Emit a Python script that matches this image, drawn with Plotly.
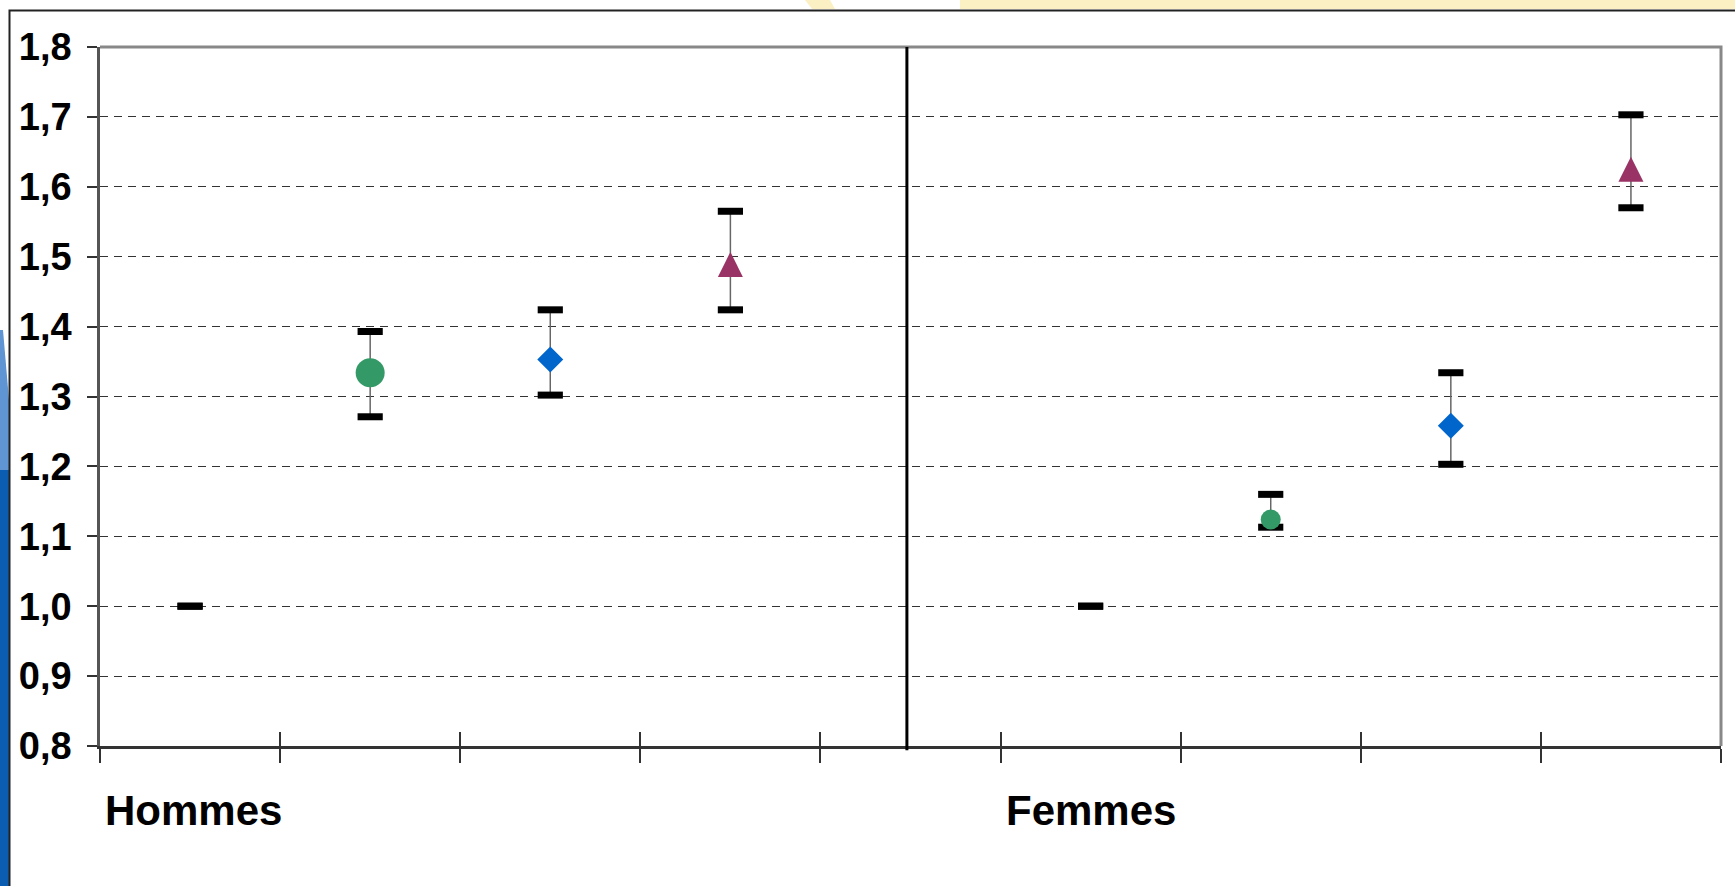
import plotly.graph_objects as go

# ---------------- data ----------------
groups = ["Hommes", "Femmes"]
y_ticks = [0.8, 0.9, 1.0, 1.1, 1.2, 1.3, 1.4, 1.5, 1.6, 1.7, 1.8]
y_tick_text = ["0,8", "0,9", "1,0", "1,1", "1,2", "1,3", "1,4", "1,5", "1,6", "1,7", "1,8"]

# order inside each group: reference, circle, diamond, triangle
hommes_est = [1.000, 1.334, 1.353, 1.489]
hommes_lo = [1.000, 1.271, 1.302, 1.424]
hommes_hi = [1.000, 1.393, 1.424, 1.565]

femmes_est = [1.000, 1.124, 1.258, 1.625]
femmes_lo = [1.000, 1.113, 1.203, 1.570]
femmes_hi = [1.000, 1.160, 1.334, 1.703]

# ---------------- layout constants ----------------
W, H = 1735, 886
ML, MR, MT, MB = 100, 14, 47, 140
PW, PH = W - ML - MR, H - MT - MB

n_per_group = len(hommes_est)
gap = 1
h_x = list(range(n_per_group))
f_x = [i + n_per_group + gap for i in range(n_per_group)]
n_slots = n_per_group * 2 + gap
boundaries = [i - 0.5 for i in range(n_slots + 1)]
divider_x = n_per_group - 0.5 + gap / 2.0 - 0.02

FONT = "Liberation Sans, Arial, sans-serif"
GREEN, BLUE, PURPLE = "#339966", "#0066CC", "#993366"

fig = go.Figure()

# whiskers (thin lines, no caps)
for xs, est, lo, hi in [(h_x, hommes_est, hommes_lo, hommes_hi),
                        (f_x, femmes_est, femmes_lo, femmes_hi)]:
    fig.add_trace(go.Scatter(
        x=xs, y=est, mode="markers",
        marker=dict(size=1, color="rgba(0,0,0,0)"),
        error_y=dict(type="data", symmetric=False,
                     array=[h - e for h, e in zip(hi, est)],
                     arrayminus=[e - l for e, l in zip(est, lo)],
                     width=0, thickness=1.5, color="#666666"),
        showlegend=False, hoverinfo="skip"))

# caps (thick black dashes at CI limits)
for xs, lo, hi in [(h_x, hommes_lo, hommes_hi), (f_x, femmes_lo, femmes_hi)]:
    fig.add_trace(go.Scatter(
        x=xs + xs, y=lo + hi, mode="markers",
        marker=dict(symbol="line-ew", size=18,
                    line=dict(width=7, color="black")),
        showlegend=False, hoverinfo="skip"))

# point estimates  (triangle: rotated arrow so it is centred on the value)
styles = [
    (1, "circle", GREEN, 29, 20, 0, 0),
    (2, "diamond", BLUE, 20, 20, 0, 0),
    (3, "arrow-down", PURPLE, 25, 25, 180, 12.5),
]
for idx, sym, col, size_h, size_f, ang, stand in styles:
    for xs, est, sz in [(h_x, hommes_est, size_h), (f_x, femmes_est, size_f)]:
        fig.add_trace(go.Scatter(
            x=[xs[idx]], y=[est[idx]], mode="markers",
            marker=dict(symbol=sym, size=sz, color=col, angle=ang, standoff=stand,
                        line=dict(width=0)),
            showlegend=False))

# ---------------- shapes (decoration) ----------------
def px_x(p):
    return (p - ML) / PW

def px_y(p):
    return (H - MB - p) / PH

shapes = [
    # top + right plot border (gray)
    dict(type="path", xref="paper", yref="paper",
         path="M 0,1 L 1,1 L 1,0", line=dict(color="#888888", width=3), layer="above"),
    # divider between groups
    dict(type="line", xref="x", yref="paper", x0=divider_x, x1=divider_x,
         y0=-0.006, y1=1, line=dict(color="black", width=3), layer="above"),
    # slide background: yellow band at top
    dict(type="rect", xref="paper", yref="paper", x0=px_x(960), x1=px_x(W),
         y0=px_y(9), y1=px_y(0), fillcolor="#FBF0C4", line=dict(width=0), layer="below"),
    dict(type="path", xref="paper", yref="paper",
         path=f"M {px_x(805)},{px_y(0)} L {px_x(830)},{px_y(0)} L {px_x(835)},{px_y(9)} L {px_x(812)},{px_y(9)} Z",
         fillcolor="#FBF0C4", line=dict(width=0), layer="below"),
    # blue stripe on the left
    dict(type="rect", xref="paper", yref="paper", x0=px_x(0), x1=px_x(9),
         y0=px_y(H), y1=px_y(470), fillcolor="#0A5DB0", line=dict(width=0), layer="below"),
    dict(type="path", xref="paper", yref="paper",
         path=f"M {px_x(0)},{px_y(470)} L {px_x(9)},{px_y(470)} L {px_x(9)},{px_y(400)} L {px_x(3)},{px_y(330)} L {px_x(0)},{px_y(330)} Z",
         fillcolor="#5E95D2", line=dict(width=0), layer="below"),
    # slide frame
    dict(type="path", xref="paper", yref="paper",
         path=f"M {px_x(9.5)},{px_y(H)} L {px_x(9.5)},{px_y(10.5)} L {px_x(W)},{px_y(10.5)}",
         line=dict(color="#222222", width=2), layer="below"),
]

annotations = []
for name, x0 in [(groups[0], boundaries[0]), (groups[1], n_per_group + gap - 0.5)]:
    annotations.append(dict(
        text=f"<b>{name}</b>", x=x0, xref="x", xanchor="left", xshift=3,
        y=px_y(810), yref="paper", yanchor="middle", showarrow=False,
        font=dict(family=FONT, size=42, color="black")))

fig.update_layout(
    width=W, height=H,
    margin=dict(l=ML, r=MR, t=MT, b=MB, pad=0),
    paper_bgcolor="white", plot_bgcolor="white",
    showlegend=False,
    shapes=shapes, annotations=annotations,
    xaxis=dict(range=[boundaries[0], boundaries[-1]], tickvals=boundaries,
               showticklabels=False, ticks="outside", ticklen=14, tickwidth=1.5,
               tickcolor="#333333", showgrid=False, zeroline=False,
               showline=True, linecolor="#333333", linewidth=2.5),
    xaxis2=dict(range=[boundaries[0], boundaries[-1]], tickvals=boundaries[1:],
                showticklabels=False, ticks="inside", ticklen=14, tickwidth=1.5,
                tickcolor="#333333", showgrid=False, zeroline=False,
                showline=False, overlaying="x", anchor="y", side="bottom"),
    yaxis=dict(range=[y_ticks[0], y_ticks[-1]], tickvals=y_ticks, ticktext=y_tick_text,
               ticks="outside", ticklen=10, tickwidth=1.5, tickcolor="#333333",
               ticklabelstandoff=8,
               tickfont=dict(family=FONT, size=38, color="black", weight="bold"),
               showgrid=True, gridcolor="#333333", gridwidth=1, griddash="8px,6px",
               zeroline=False, showline=True, linecolor="#555555", linewidth=2.5),
)
# dummy trace to activate xaxis2 ticks
fig.add_trace(go.Scatter(x=[boundaries[0]], y=[y_ticks[0]], xaxis="x2", mode="markers",
                         marker=dict(size=1, color="rgba(0,0,0,0)"),
                         showlegend=False, hoverinfo="skip"))

fig.write_html("out.html",
               config={"displayModeBar": False},
               post_script="document.body.style.margin='0';document.body.style.overflow='hidden';")
